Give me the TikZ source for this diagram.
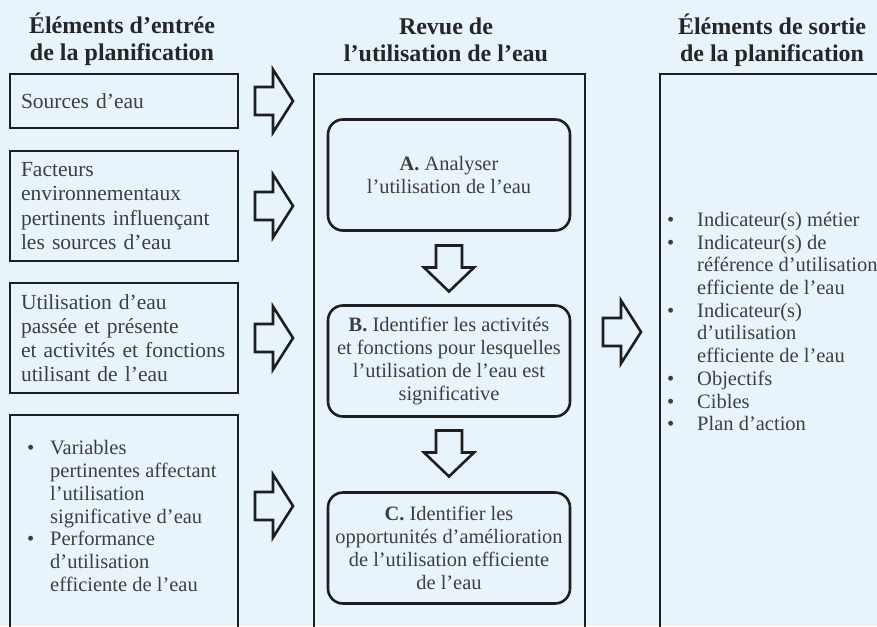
\documentclass[tikz,border=0pt]{standalone}
\usepackage{fontspec}
\setmainfont{Liberation Serif}
\usetikzlibrary{positioning}
\definecolor{paleblue}{RGB}{232,244,252}
\definecolor{inkgray}{RGB}{62,62,62}
\definecolor{headgray}{RGB}{38,38,38}
\definecolor{framegray}{RGB}{30,30,30}

% bullet with its hanging gap, and the gap alone for continued lines
\newcommand{\lstbul}[1][23pt]{\makebox[#1][l]{\textbullet}}
\newcommand{\lstgap}[1][23pt]{\hspace*{#1}}

\tikzset{
  blockright/.pic={
    \draw[framegray, line width=2.6pt]
      (0,-14) -- (18,-14) -- (18,-31.5) -- (38,0) -- (18,31.5) -- (18,14) -- (0,14) -- cycle;
  },
  blockdown/.pic={
    \draw[framegray, line width=2.6pt]
      (-13,0) -- (13,0) -- (13,22) -- (25,22) -- (0,46) -- (-25,22) -- (-13,22) -- cycle;
  }
}

\begin{document}
\begin{tikzpicture}[x=1pt, y=-1pt,
  heading/.style={font=\fontsize{24}{27}\selectfont\bfseries, text=headgray, align=center, inner sep=0pt},
  inbox/.style={draw=framegray, line width=2.6pt, outer sep=0pt, minimum width=228pt,
    text width=206pt, inner xsep=11pt, align=left, text=inkgray,
    font=\fontsize{21.5}{24.2}\selectfont},
  stagebox/.style={draw=framegray, line width=2.6pt, outer sep=0pt, rounded corners=15pt,
    minimum width=242pt, minimum height=111pt, align=center, text=inkgray,
    font=\fontsize{20.4}{23}\selectfont},
  column/.style={draw=framegray, line width=2.6pt, outer sep=0pt, anchor=north west},
  listtext/.style={anchor=north west, inner sep=0pt, align=left, text=inkgray,
    font=\fontsize{20.5}{22.7}\selectfont}]

  \fill[paleblue] (0,0) rectangle (877,626);
  \useasboundingbox (0,0) rectangle (877,626);
  \clip (0,0) rectangle (877,626);

  % column headings (base = last line)
  \node[heading, anchor=base] (hin) at (122,60) {Éléments d’entrée\\de la planification};
  \node[heading, anchor=base] (hrev) at (446,62) {Revue de\\l’utilisation de l’eau};
  \node[heading, anchor=base] (hout) at (772,61) {Éléments de sortie\\de la planification};

  % inputs
  \node[inbox, anchor=north west, minimum height=54pt] (in1) at (10,74) {Sources d’eau};
  \node[inbox, minimum height=110pt, below=23pt of in1] (in2)
    {Facteurs\\environnementaux\\pertinents influençant\\les sources d’eau};
  \node[inbox, minimum height=110pt, below=22pt of in2] (in3)
    {Utilisation d’eau\\passée et présente\\et activités et fonctions\\utilisant de l’eau};
  \node[inbox, minimum height=260pt, below=22pt of in3] (in4) {};
  \node[listtext] (vars) at ([shift={(17pt,-25.5pt)}]in4.north west)
    {\lstbul Variables\\
     \lstgap pertinentes affectant\\
     \lstgap l’utilisation\\
     \lstgap significative d’eau\\
     \lstbul Performance\\
     \lstgap d’utilisation\\
     \lstgap efficiente de l’eau};

  % review
  \node[column, minimum width=271pt, minimum height=600pt] (rev) at (314,74) {};
  \node[stagebox] (stA) at (449,175) {\textbf{A.} Analyser\\l’utilisation de l’eau};
  \node[stagebox, below=75pt of stA] (stB)
    {\textbf{B.} Identifier les activités\\et fonctions pour lesquelles\\l’utilisation de l’eau est\\significative};
  \node[stagebox, below=76pt of stB] (stC)
    {\textbf{C.} Identifier les\\opportunités d’amélioration\\de l’utilisation efficiente\\de l’eau};

  % outputs
  \node[column, minimum width=300pt, minimum height=600pt] (out) at (660,74) {};
  \node[listtext] (outlist) at (667,212)
    {\lstbul[30pt]Indicateur(s) métier\\
     \lstbul[30pt]Indicateur(s) de\\
     \lstgap[30pt]référence d’utilisation\\
     \lstgap[30pt]efficiente de l’eau\\
     \lstbul[30pt]Indicateur(s)\\
     \lstgap[30pt]d’utilisation\\
     \lstgap[30pt]efficiente de l’eau\\
     \lstbul[30pt]Objectifs\\
     \lstbul[30pt]Cibles\\
     \lstbul[30pt]Plan d’action};

  % block arrows
  \foreach \b in {in1,in2,in3}
    \pic at ([xshift=17pt]\b.east) {blockright};
  \pic at ([shift={(17pt,-91pt)}]in4.north east) {blockright};
  \pic at ([shift={(18pt,-258pt)}]rev.north east) {blockright};
  \pic at ([yshift=-15pt]stA.south) {blockdown};
  \pic at ([yshift=-14pt]stB.south) {blockdown};
\end{tikzpicture}
\end{document}
